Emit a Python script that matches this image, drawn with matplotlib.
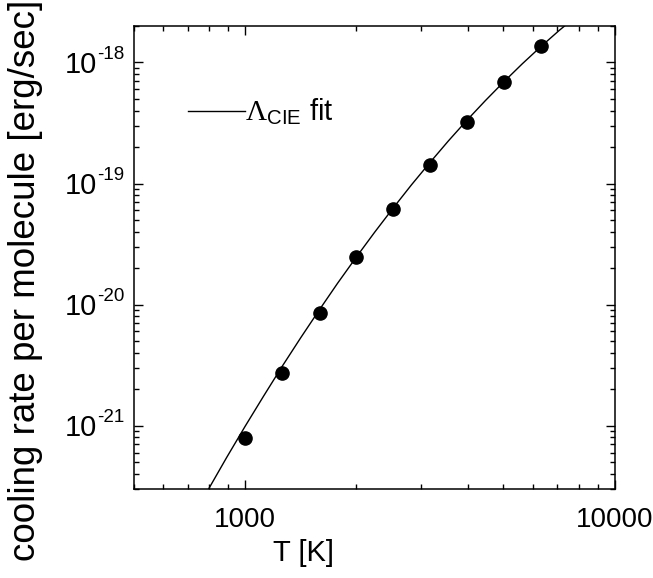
import matplotlib
matplotlib.use("Agg")
import matplotlib.pyplot as plt
from matplotlib.ticker import LogLocator, NullFormatter, FixedLocator
from matplotlib.transforms import offset_copy, blended_transform_factory

plt.rcParams["font.family"] = ["Liberation Sans", "DejaVu Sans"]
plt.rcParams["mathtext.fontset"] = "custom"
plt.rcParams["mathtext.rm"] = "Liberation Serif"
plt.rcParams["mathtext.sf"] = "Liberation Sans"
plt.rcParams["mathtext.it"] = "Liberation Serif:italic"

# Measured cooling rates (filled circles)
temps = [1000, 1260, 1590, 2000, 2510, 3160, 3980, 5010, 6310]
rates = [7.96e-22, 2.74e-21, 8.6e-21, 2.45e-20, 6.18e-20, 1.43e-19,
         3.24e-19, 6.89e-19, 1.38e-18]

# Lambda_CIE fit curve, sampled along the temperature range
fit_temps = [776, 891, 1000, 1122, 1259, 1413, 1585, 1778, 1995, 2239, 2512,
             2818, 3162, 3548, 3981, 4467, 5012, 5623, 6310, 7079, 7586]
fit_rates = [2.62e-22, 5.47e-22, 9.91e-22, 1.76e-21, 3.09e-21, 5.32e-21,
             8.99e-21, 1.50e-20, 2.45e-20, 3.95e-20, 6.25e-20, 9.75e-20,
             1.49e-19, 2.25e-19, 3.33e-19, 4.84e-19, 6.92e-19, 9.75e-19,
             1.35e-18, 1.84e-18, 2.19e-18]

x_ticks = [1000, 10000]
x_ticklabels = ["1000", "10000"]
y_decades = [1e-21, 1e-20, 1e-19, 1e-18]
y_exponents = ["-21", "-20", "-19", "-18"]

fig = plt.figure(figsize=(6.53, 5.78), dpi=100)
ax = fig.add_axes([0.2052, 0.1540, 0.7361, 0.8010])

ax.plot(fit_temps, fit_rates, color="black", lw=1.0,
        label=r"$\Lambda_{\mathsf{CIE}}$ fit")
ax.plot(temps, rates, "o", color="black", ms=9.5, ls="none")

ax.set_xscale("log")
ax.set_yscale("log")
ax.set_xlim(500, 10000)
ax.set_ylim(3e-22, 2e-18)

for s in ax.spines.values():
    s.set_linewidth(1.1)

ax.xaxis.set_major_locator(FixedLocator(x_ticks))
ax.set_xticklabels(x_ticklabels)
ax.xaxis.set_minor_locator(LogLocator(base=10, subs=range(2, 10)))
ax.xaxis.set_minor_formatter(NullFormatter())
ax.yaxis.set_major_locator(FixedLocator(y_decades))
ax.yaxis.set_minor_locator(LogLocator(base=10, subs=range(2, 10)))
ax.yaxis.set_minor_formatter(NullFormatter())
ax.set_yticklabels([])

ax.tick_params(which="both", direction="in", top=True, right=True, width=1.0)
ax.tick_params(which="major", length=6.5)
ax.tick_params(which="minor", length=3.5)
ax.tick_params(axis="x", which="major", labelsize=20, pad=13)

# y tick labels as "10" with a small raised exponent
trans = blended_transform_factory(ax.transAxes, ax.transData)
for val, ex in zip(y_decades, y_exponents):
    t_base = offset_copy(trans, fig=fig, x=-37, y=-10.7, units="dots")
    ax.text(0, val, "10", transform=t_base, ha="right", va="baseline",
            fontsize=21, clip_on=False)
    t_exp = offset_copy(trans, fig=fig, x=-36.5, y=3.7, units="dots")
    ax.text(0, val, ex, transform=t_exp, ha="left", va="baseline",
            fontsize=13.5, clip_on=False)

ax.set_xlabel("T [K]", fontsize=21)
ax.xaxis.set_label_coords(0.352, -0.108)
ax.xaxis.label.set_va("top")
ax.set_ylabel("cooling rate per molecule [erg/sec]", fontsize=26.5)
ax.yaxis.set_label_coords(-0.19, 0.451)

ax.legend(loc="center left", bbox_to_anchor=(0.1123, 0.814), frameon=False,
          fontsize=21, handlelength=1.95, handletextpad=0.0,
          borderpad=0, borderaxespad=0)

fig.savefig("out.png", dpi=100)
